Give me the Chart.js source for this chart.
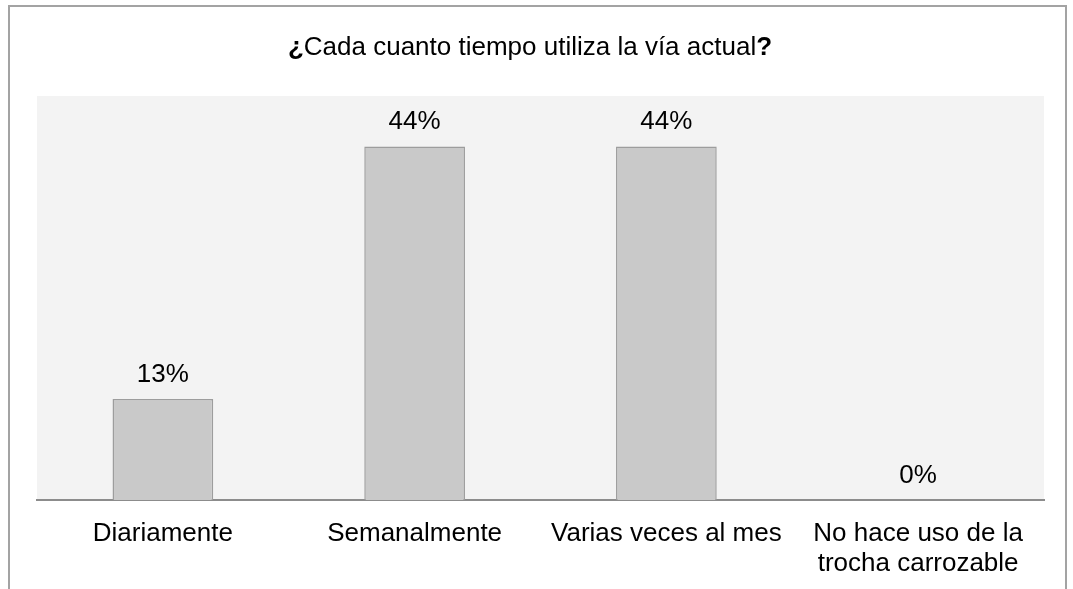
<!DOCTYPE html>
<html>
<head>
<meta charset="utf-8">
<script src="https://cdn.jsdelivr.net/npm/chart.js@4/dist/chart.umd.min.js"></script>
<style>
  html, body { margin: 0; padding: 0; background: #fff; }
  #wrap { position: relative; width: 1073px; height: 589px; overflow: hidden; }
  #title {
    position: absolute; left: 0; top: 33px; width: 1060px;
    text-align: center; font: 26px 'Liberation Sans', Arial, sans-serif;
    line-height: 26px; color: #000;
  }
  canvas { position: absolute; left: 0; top: 0; }
</style>
</head>
<body>
<div id="wrap">
  <canvas id="chart" width="1073" height="589"></canvas>
  <div id="title"><b>¿</b>Cada cuanto tiempo utiliza la vía actual<b>?</b></div>
</div>
<script>
/* ── Data ── */
const CATEGORIES = ['Diariamente', 'Semanalmente', 'Varias veces al mes', ['No hace uso de la', 'trocha carrozable']];
const SHARE_PCT  = [12.5, 43.75, 43.75, 0];

/* ── Constants ── */
const FONT = "'Liberation Sans', Arial, sans-serif";

/* ── Frame + plot background ── */
const framePlugin = {
  id: 'frame',
  beforeDraw(chart) {
    const { ctx, chartArea: a } = chart;
    ctx.save();
    ctx.fillStyle = '#f3f3f3';
    ctx.fillRect(a.left, a.top, a.right - a.left, a.bottom - a.top);
    ctx.strokeStyle = '#a3a3a3';
    ctx.lineWidth = 2;
    ctx.strokeRect(9, 6, 1057, 620);
    ctx.restore();
  },
};

/* ── Value labels above bars ── */
const valuePlugin = {
  id: 'values',
  afterDatasetsDraw(chart) {
    const { ctx, data } = chart;
    chart.getDatasetMeta(0).data.forEach((bar, i) => {
      ctx.save();
      ctx.textAlign    = 'center';
      ctx.textBaseline = 'alphabetic';
      ctx.fillStyle    = '#000';
      ctx.font         = '26px ' + FONT;
      ctx.fillText(Math.round(data.datasets[0].data[i]) + '%', bar.x, bar.y - 17.5);
      ctx.restore();
    });
  },
};

new Chart(document.getElementById('chart'), {
  type: 'bar',
  plugins: [framePlugin, valuePlugin],
  data: {
    labels: CATEGORIES,
    datasets: [{
      data:            SHARE_PCT,
      backgroundColor: '#c9c9c9',
      borderColor:     '#9d9d9d',
      borderWidth:     1.5,
      borderSkipped:   'bottom',
    }],
  },
  options: {
    responsive:         false,
    animation:          false,
    barPercentage:      0.4,
    categoryPercentage: 1,
    layout: { padding: { left: 37, right: 29, top: 96, bottom: 0 } },
    plugins: {
      legend:  { display: false },
      tooltip: { enabled: false },
    },
    scales: {
      y: { display: false, min: 0, max: 50 },
      x: {
        grid:   { display: false, drawTicks: false },
        border: { display: true, color: '#8c8c8c', width: 2 },
        ticks: {
          color:       '#000',
          font:        { family: FONT, size: 26, lineHeight: 1.15 },
          padding:     19,
          autoSkip:    false,
          maxRotation: 0,
          minRotation: 0,
        },
        afterFit(scale) { scale.height = 89; },
      },
    },
  },
});
</script>
</body>
</html>
